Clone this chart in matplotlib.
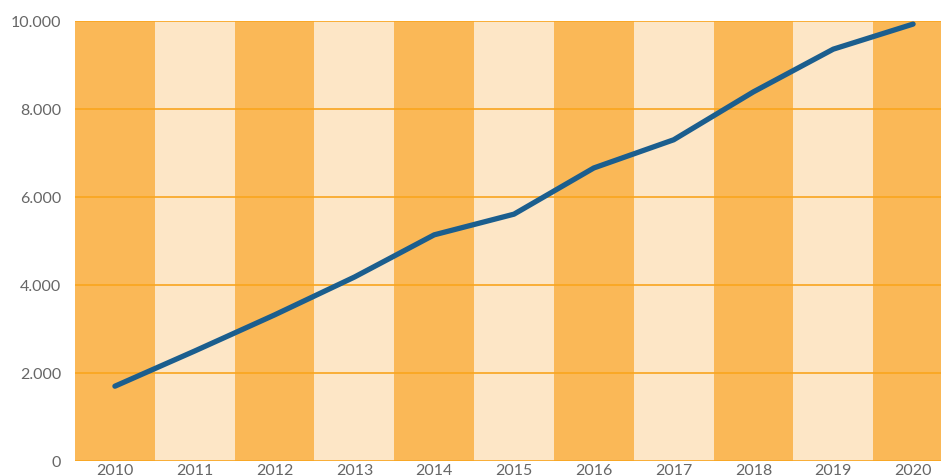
import matplotlib
matplotlib.use("Agg")
import matplotlib.pyplot as plt
import numpy as np

years = [2010, 2011, 2012, 2013, 2014, 2015, 2016, 2017, 2018, 2019, 2020]
values = [1700, 2500, 3320, 4180, 5140, 5610, 6660, 7300, 8390, 9360, 9930]
y_ticks = [0, 2000, 4000, 6000, 8000, 10000]
y_labels = ["0", "2.000", "4.000", "6.000", "8.000", "10.000"]

dark = "#fab857"
light = "#fde6c6"
grid = "#f9a51e"
line_col = "#1b5e8e"
text_col = "#666666"

plt.rcParams["font.family"] = ["Lato", "DejaVu Sans"]

fig = plt.figure(figsize=(9.41, 4.77), dpi=100)
ax = fig.add_axes([75 / 941, 1 - 462 / 477, 878 / 941, 440 / 477])

x = np.arange(len(years))
for i in x:
    ax.axvspan(i - 0.5, i + 0.5, color=dark if i % 2 == 0 else light, lw=0, zorder=0)

for t in y_ticks:
    ax.axhline(t, color=grid, lw=1.2, zorder=1)

ax.plot(x, values, color=line_col, lw=3.8, solid_capstyle="round", zorder=3)

ax.set_xlim(-0.5, len(years) - 0.5)
ax.set_ylim(0, 10000)
ax.set_xticks(x)
ax.set_xticklabels([str(y) for y in years])
ax.set_yticks(y_ticks)
ax.set_yticklabels(y_labels)
ax.tick_params(length=0, labelsize=11.5, colors=text_col)
ax.tick_params(axis="x", pad=1.5)
ax.tick_params(axis="y", pad=10)
for s in ax.spines.values():
    s.set_visible(False)

fig.savefig("out.png", dpi=100)
